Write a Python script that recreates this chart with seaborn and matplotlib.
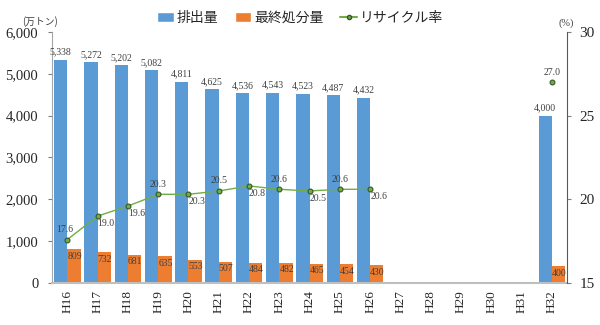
import matplotlib
matplotlib.use("Agg")
import matplotlib.pyplot as plt
from matplotlib.patches import Patch
from matplotlib.lines import Line2D
from matplotlib.ticker import FuncFormatter, MultipleLocator
import numpy as np
import pandas as pd
import seaborn as sns

years = ["H16", "H17", "H18", "H19", "H20", "H21", "H22", "H23", "H24",
         "H25", "H26", "H27", "H28", "H29", "H30", "H31", "H32"]
emission = [5338, 5272, 5202, 5082, 4811, 4625, 4536, 4543, 4523, 4487, 4432,
            None, None, None, None, None, 4000]
final_disposal = [809, 732, 681, 635, 553, 507, 484, 482, 465, 454, 430,
                  None, None, None, None, None, 400]
recycle_rate = [17.6, 19.0, 19.6, 20.3, 20.3, 20.5, 20.8, 20.6, 20.5, 20.6, 20.6,
                None, None, None, None, None, 27.0]
series_names = ["排出量", "最終処分量", "リサイクル率"]

# label placement for the rate line: +1 above, -1 below
rate_label_side = [1, -1, -1, 1, -1, 1, -1, 1, -1, 1, -1, 0, 0, 0, 0, 0, 1]

BLUE = "#5B9BD5"
ORANGE = "#ED7D31"
GREEN = "#70AD47"
SERIF = ["Liberation Serif", "DejaVu Serif"]
JP = ["Noto Sans CJK JP", "DejaVu Sans"]

sns.set_style("white")
plt.rcParams["font.family"] = SERIF

bars = pd.DataFrame({
    "year": years * 2,
    "value": emission + final_disposal,
    "kind": [series_names[0]] * len(years) + [series_names[1]] * len(years),
})
bars["value"] = pd.to_numeric(bars["value"])

fig = plt.figure(figsize=(6, 3.25), dpi=100)
ax = fig.add_axes([0.087, 0.129, 0.858, 0.773])

sns.barplot(data=bars, x="year", y="value", hue="kind", order=years,
            hue_order=series_names[:2], palette=[BLUE, ORANGE],
            width=0.88, gap=0, errorbar=None, legend=False, ax=ax,
            saturation=1, linewidth=0)

ax.set_xlim(-0.5, len(years) - 0.5)
ax.set_ylim(0, 6000)
ax.yaxis.set_major_locator(MultipleLocator(1000))
ax.yaxis.set_major_formatter(FuncFormatter(lambda v, p: f"{int(v):,}"))
ax.set_xlabel("")
ax.set_ylabel("")
ax.tick_params(axis="y", labelsize=10.5, length=3, color="#808080", direction="out", left=True, pad=7)
ax.tick_params(axis="x", labelsize=9.5, length=0, rotation=90, pad=5)
for lab in ax.get_xticklabels():
    lab.set_va("top")
for side in ["top", "right"]:
    ax.spines[side].set_visible(False)
ax.spines["left"].set_color("#A6A6A6")
ax.spines["bottom"].set_color("#BFBFBF")
ax.spines["bottom"].set_linewidth(1.5)

# value labels on bars
for i, (e, f) in enumerate(zip(emission, final_disposal)):
    if e is not None:
        ax.text(i - 0.22, e + 80, f"{e:,}", ha="center", va="bottom",
                fontsize=7, color="#404040")
    if f is not None:
        ax.text(i + 0.24, f - 60, f"{f:,}", ha="center", va="top",
                fontsize=7, color="#404040")

ax2 = ax.twinx()
pos = {y: i for i, y in enumerate(years)}
rate_df = pd.DataFrame({"x": [pos[y] for y in years], "rate": recycle_rate})
rate_df["rate"] = pd.to_numeric(rate_df["rate"])
main = rate_df.iloc[:11]
sns.lineplot(data=main, x="x", y="rate", ax=ax2, color=GREEN, linewidth=1,
             marker="o", markersize=3.5, markerfacecolor=GREEN,
             markeredgecolor="#385723", markeredgewidth=0.8)
tail = rate_df.iloc[-1:]
sns.scatterplot(data=tail, x="x", y="rate", ax=ax2, color=GREEN, s=12,
                edgecolor="#385723", linewidth=0.8)
ax2.set_ylim(15, 30)
ax2.set_xlim(-0.5, len(years) - 0.5)
ax2.yaxis.set_major_locator(MultipleLocator(5))
ax2.set_xlabel("")
ax2.set_ylabel("")
ax2.tick_params(axis="y", labelsize=11, length=3, color="#808080", direction="out", right=True, pad=6)
for side in ["top", "left", "bottom"]:
    ax2.spines[side].set_visible(False)
ax2.spines["right"].set_color("#595959")

for i, (r, s) in enumerate(zip(recycle_rate, rate_label_side)):
    if r is None:
        continue
    if s > 0:
        ax2.annotate(f"{r:.1f}", (i, r), xytext=(-2 if i == 0 else 0, 4),
                     textcoords="offset points", ha="center", va="bottom",
                     fontsize=7, color="#404040")
    else:
        ax2.annotate(f"{r:.1f}", (i, r), xytext=(0, -2),
                     textcoords="offset points", ha="left", va="top",
                     fontsize=7, color="#404040")

handles = [
    Patch(facecolor=BLUE, label=series_names[0]),
    Patch(facecolor=ORANGE, label=series_names[1]),
    Line2D([0], [0], color=GREEN, marker="o", markersize=3,
           markerfacecolor=GREEN, markeredgecolor="#385723", label=series_names[2]),
]
fig.legend(handles=handles, loc="center", bbox_to_anchor=(0.5, 0.945), ncol=3,
           frameon=False, prop={"family": JP, "size": 10}, handlelength=1.2,
           handleheight=0.7, handletextpad=0.2, columnspacing=1.2)

fig.text(0.067, 0.935, "(万トン)", family=JP, fontsize=7, color="#404040",
         ha="center", va="center")
fig.text(0.943, 0.93, "(%)", family=SERIF, fontsize=7.5, color="#404040",
         ha="center", va="center")

fig.savefig("out.png", dpi=100)
